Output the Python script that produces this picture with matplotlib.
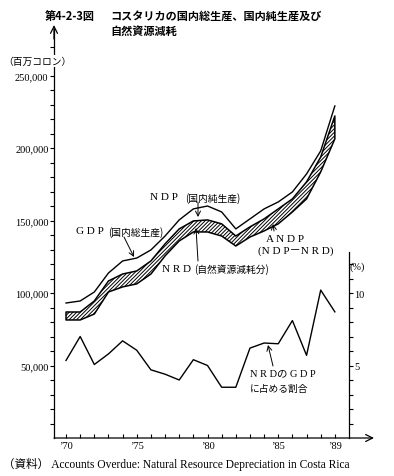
import numpy as np
import matplotlib
matplotlib.use('Agg')
import matplotlib.pyplot as plt

# values (millions of colones, %)
years = np.arange(1970, 1990)
gdp = [93100, 94500, 100700, 113800, 122100, 124100, 129700, 139300, 150400, 158000,
       160000, 155900, 144200, 151100, 158000, 162800, 169700, 182100, 198000, 229000]
ndp = [86900, 86900, 94500, 108300, 113100, 115200, 122100, 133900, 144200, 149700,
       150400, 147700, 139300, 145600, 151100, 158000, 164900, 176600, 193800, 222100]
andp = [81400, 81400, 85500, 100700, 104200, 106300, 113100, 125600, 135900, 142100,
        142100, 139300, 132400, 138600, 142800, 147700, 155900, 164900, 183500, 206300]
nrd_pct = [5.35, 7.0, 5.07, 5.8, 6.7, 6.05, 4.7, 4.4, 4.0, 5.4,
           5.0, 3.5, 3.5, 6.2, 6.55, 6.5, 8.1, 5.7, 10.2, 8.7]

x_ticks = [1970, 1975, 1980, 1985, 1989]
x_labels = ['’70', '’75', '’80', '’85', '’89']
y_ticks = [50000, 100000, 150000, 200000, 250000]
y_labels = ['50,000', '100,000', '150,000', '200,000', '250,000']

W, H = 394, 477
SERIF = ['Liberation Serif', 'Noto Sans CJK JP']
JP = ['Noto Sans CJK JP', 'DejaVu Sans']
plt.rcParams['hatch.linewidth'] = 0.7


def P(x, y):
    return (x / W, 1 - y / H)


fig = plt.figure(figsize=(W / 100, H / 100), dpi=100)
ax = fig.add_axes([54 / W, (H - 439) / H, 295 / W, 406 / H])
ax.set_xlim(1969.15, 1990)
ax.set_ylim(0, 280000)

ax.plot(years, gdp, color='black', lw=1.0)
ax.fill_between(years, andp, ndp, facecolor='white', edgecolor='black',
                hatch='/////////', lw=1.1)
# percent line drawn on the same scale: 1 % = 10,000
ax.plot(years, np.array(nrd_pct) * 10000, color='black', lw=1.0)

for s in ax.spines.values():
    s.set_visible(False)
ax.set_xticks(x_ticks)
ax.set_xticklabels(x_labels, family=SERIF, fontsize=7.5)
ax.set_xticks(years, minor=True)
ax.tick_params(axis='x', which='both', direction='in', length=3, width=0.8, pad=2)
ax.set_yticks(y_ticks)
ax.set_yticklabels(y_labels, family=SERIF, fontsize=7.5)
ax.set_yticks(np.arange(10000, 280000, 10000), minor=True)
ax.tick_params(axis='y', which='both', direction='out', length=3, width=0.8, pad=1)

ax2 = ax.twinx()
ax2.set_ylim(0, 28)
for k, s in ax2.spines.items():
    s.set_visible(k == 'right')
ax2.spines['right'].set_bounds(0, 12.8)
ax2.spines['right'].set_linewidth(0.9)
ax2.set_yticks([5, 10])
ax2.set_yticklabels(['5', '10'], family=SERIF, fontsize=7.5)
ax2.set_yticks(np.arange(1, 13), minor=True)
ax2.tick_params(axis='y', which='both', direction='out', length=3, width=0.8, pad=1)

arr = dict(arrowstyle='->,head_length=0.5,head_width=0.25', lw=0.9, color='black',
           shrinkA=0, shrinkB=0)
fig.add_artist(plt.Line2D([54 / W, 54 / W], [P(0, 439)[1], P(0, 30)[1]], color='black', lw=0.9))
ax.annotate('', xy=P(54, 26), xytext=P(54, 40), xycoords='figure fraction', arrowprops=arr)
ax.annotate('', xy=P(374, 439), xytext=P(54, 439), xycoords='figure fraction', arrowprops=arr)

# titles
va = 'center_baseline'
fig.text(*P(45, 15), '第4-2-3図', family=JP, fontsize=8, weight='bold', va=va)
fig.text(*P(110, 15), 'コスタリカの国内総生産、国内純生産及び', family=JP, fontsize=8,
         weight='bold', va=va)
fig.text(*P(110, 30), '自然資源減耗', family=JP, fontsize=8, weight='bold', va=va)
fig.text(*P(3, 61), '（百万コロン）', family=JP, fontsize=7, va=va, zorder=5,
         bbox=dict(facecolor='white', edgecolor='none', pad=1))
fig.text(*P(350, 266), '(%)', family=SERIF, fontsize=7.5, va=va)
fig.text(*P(3, 463), '（資料） Accounts Overdue: Natural Resource Depreciation in Costa Rica',
         family=SERIF, fontsize=8.3, va=va)

# annotations
small = dict(arrowstyle='->,head_length=0.35,head_width=0.18', lw=0.7, color='black',
             shrinkA=0, shrinkB=0)
fig.text(*P(150, 197), 'N D P', family=SERIF, fontsize=8, va=va)
fig.text(*P(185, 197), '(国内純生産)', family=JP, fontsize=7, va=va)
ax.annotate('', xy=P(198, 218), xytext=P(198, 203), xycoords='figure fraction', arrowprops=small)

fig.text(*P(76, 231), 'G D P', family=SERIF, fontsize=8, va=va)
fig.text(*P(108, 231), '(国内総生産)', family=JP, fontsize=7, va=va)
ax.annotate('', xy=P(134, 258), xytext=P(124, 238), xycoords='figure fraction', arrowprops=small)

fig.text(*P(162, 268), 'N R D', family=SERIF, fontsize=8, va=va)
fig.text(*P(194, 268), '(自然資源減耗分)', family=JP, fontsize=7, va=va)
ax.annotate('', xy=P(196, 229), xytext=P(198, 262), xycoords='figure fraction', arrowprops=small)

fig.text(*P(266, 238), 'A N D P', family=SERIF, fontsize=8, va=va)
fig.text(*P(258, 250), '(N D P－N R D)', family=SERIF, fontsize=8, va=va)
ax.annotate('', xy=P(273, 225), xytext=P(274, 232), xycoords='figure fraction', arrowprops=small)

fig.text(*P(250, 373), 'N R Dの G D P', family=SERIF, fontsize=7.5, va=va)
fig.text(*P(250, 388), 'に占める割合', family=JP, fontsize=7, va=va)
ax.annotate('', xy=P(268, 346), xytext=P(273, 367), xycoords='figure fraction', arrowprops=small)

fig.savefig('out.png', dpi=100)
